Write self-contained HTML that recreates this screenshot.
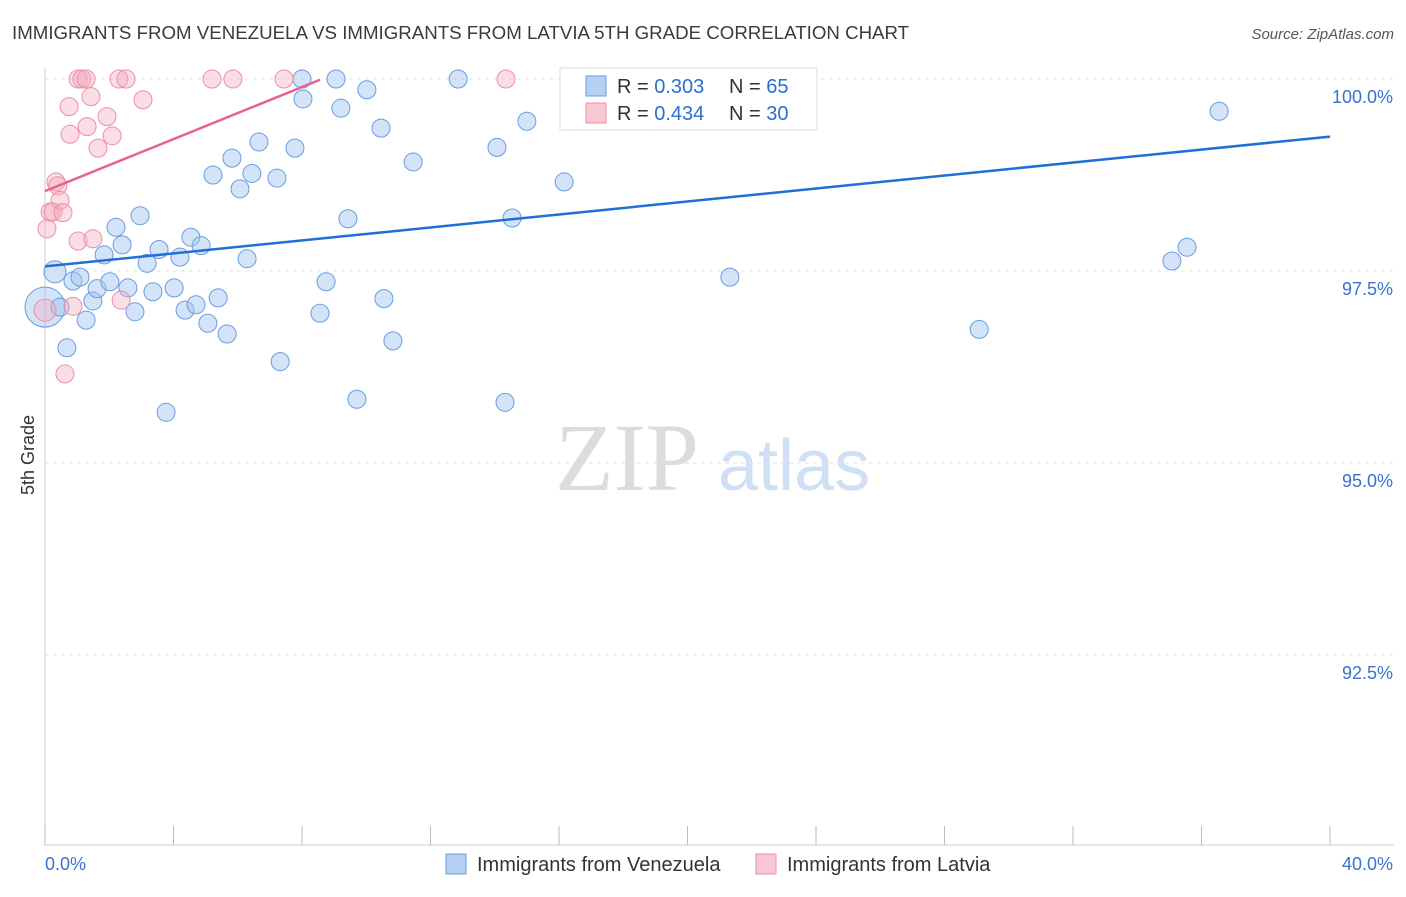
<!DOCTYPE html>
<html><head><meta charset="utf-8"><style>
body{margin:0;background:#fff;font-family:"Liberation Sans",sans-serif}
svg text{font-family:"Liberation Sans",sans-serif}
</style></head><body>
<svg id="c" width="1406" height="892">
<text x="12" y="39" font-size="18.7" fill="#3a3a3a">IMMIGRANTS FROM VENEZUELA VS IMMIGRANTS FROM LATVIA 5TH GRADE CORRELATION CHART</text>
<text x="1394" y="39" font-size="15" fill="#555" text-anchor="end" font-style="italic">Source: ZipAtlas.com</text>
<text x="34" y="455" font-size="18" fill="#333" transform="rotate(-90 34 455)" text-anchor="middle">5th Grade</text>
<text x="555" y="490" font-size="96" fill="#dcdcdc" style="font-family:'Liberation Serif',serif">ZIP</text>
<text x="718" y="490" font-size="72" fill="#cfe0f5">atlas</text>
<g id="grid"></g><g id="pts"></g><g id="lines"></g>
<g>
<rect x="560" y="68" width="257" height="62" fill="#fff" stroke="#ddd"/>
<rect x="586" y="76" width="20" height="20" fill="#b5d0f3" stroke="#6a9ce0"/>
<text x="617" y="93" font-size="20" fill="#333">R = <tspan fill="#2a6fd0">0.303</tspan></text>
<text x="729" y="93" font-size="20" fill="#333">N = <tspan fill="#2a6fd0">65</tspan></text>
<rect x="586" y="103" width="20" height="20" fill="#f8c7d4" stroke="#eb8fa9"/>
<text x="617" y="120" font-size="20" fill="#333">R = <tspan fill="#2a6fd0">0.434</tspan></text>
<text x="729" y="120" font-size="20" fill="#333">N = <tspan fill="#2a6fd0">30</tspan></text>
</g>
<g>
<rect x="446" y="854" width="20" height="20" fill="#b5d0f3" stroke="#6a9ce0"/>
<text x="477" y="871" font-size="20" fill="#333">Immigrants from Venezuela</text>
<rect x="756" y="854" width="20" height="20" fill="#f8c7d4" stroke="#eb8fa9"/>
<text x="787" y="871" font-size="20" fill="#333">Immigrants from Latvia</text>
</g>
</svg>
<script>
const yTicks=[100,97.5,95,92.5];
const yTickLabels=["100.0%","97.5%","95.0%","92.5%"];
const xTickLabels=["0.0%","40.0%"];
const blueX=[0.31,0,0.47,0.68,0.87,1.09,1.28,1.49,1.62,1.84,2.02,2.21,2.40,2.58,2.80,2.96,3.18,3.36,3.55,3.77,4.02,4.20,4.36,4.54,4.70,4.86,5.07,5.23,5.39,5.67,5.82,6.07,6.29,6.44,6.66,7.22,7.32,7.78,8.00,8.03,8.56,8.75,9.06,9.21,9.43,9.71,10.02,10.46,10.55,10.83,11.46,12.86,14.07,14.32,14.54,15.00,16.16,17.28,21.32,21.95,29.08,35.08,35.55,36.55];
const blueY=[97.49,97.03,97.03,96.50,97.37,97.42,96.86,97.11,97.27,97.71,97.36,98.07,97.84,97.28,96.97,98.22,97.60,97.23,97.78,95.66,97.28,97.68,96.99,97.94,97.06,97.83,96.82,98.75,97.15,96.68,98.97,98.57,97.66,98.77,99.18,98.71,96.32,99.10,100,99.74,96.95,97.36,100,99.62,98.18,95.83,99.86,99.36,97.14,96.59,98.92,100,99.11,95.79,98.19,99.45,98.66,100,97.42,100,96.74,97.63,97.81,99.58];
const pinkX=[0,0.06,0.16,0.25,0.34,0.40,0.47,0.56,0.62,0.75,0.78,0.87,1.03,1.03,1.15,1.28,1.31,1.43,1.49,1.65,1.93,2.09,2.30,2.37,2.52,3.05,5.20,5.85,7.44,14.35];
const pinkY=[96.99,98.05,98.27,98.27,98.66,98.61,98.42,98.26,96.16,99.64,99.28,97.04,97.89,100,100,100,99.38,99.77,97.92,99.10,99.51,99.26,100,97.12,100,99.73,100,100,100,100];
const blueLine=[[0,97.56],[40,99.25]];
const pinkLine=[[0,98.54],[8.56,99.99]];
const X=v=>45+v/40*1285, Y=v=>79+(100-v)/2.5*192;
const NS="http://www.w3.org/2000/svg";
function mk(t,a,p){const e=document.createElementNS(NS,t);for(const k in a)e.setAttribute(k,a[k]);p.appendChild(e);return e;}
const g=document.getElementById('grid');
let ax=mk('line',{x1:45,y1:68,x2:45,y2:845,stroke:'#ccc'},g);


let bx=mk('line',{x1:45,y1:845,x2:1394,y2:845,stroke:'#ccc'},g);


yTicks.forEach((t,i)=>{
 let l=mk('line',{x1:45,y1:Y(t),x2:1394,y2:Y(t),stroke:'#e2e2e2','stroke-dasharray':'4 4'},g);
 
 
 let tx=mk('text',{x:1393,y:Y(t)+24,'font-size':18,fill:'#3a72d0','text-anchor':'end'},g);tx.textContent=yTickLabels[i];
 
 
});
for(let i=0;i<=10;i++){let l=mk('line',{x1:X(i*4),y1:826,x2:X(i*4),y2:845,stroke:'#bbb'},g);
 
 }
[[0,45,'start'],[1,1393,'end']].forEach(([i,x,a])=>{let t=mk('text',{x:x,y:870,'font-size':18,fill:'#3a72d0','text-anchor':a},g);t.textContent=xTickLabels[i];
 
 });
const p=document.getElementById('pts');
blueX.forEach((x,i)=>{const r=(i==0?11:(i==1?20:9));const c=mk('circle',{cx:X(x),cy:Y(blueY[i]),r:r,fill:'rgba(160,196,240,0.45)',stroke:'#6a9ce0','stroke-width':1},p);
 
 });
pinkX.forEach((x,i)=>{const c=mk('circle',{cx:X(x),cy:Y(pinkY[i]),r:(i==0?11:9),fill:'rgba(245,170,190,0.4)',stroke:'#eb8fa9','stroke-width':1},p);
 
 });
const L=document.getElementById('lines');
let bl=mk('line',{x1:X(blueLine[0][0]),y1:Y(blueLine[0][1]),x2:X(blueLine[1][0]),y2:Y(blueLine[1][1]),stroke:'#1f6fd6','stroke-width':2.5},L);


let pl=mk('line',{x1:X(pinkLine[0][0]),y1:Y(pinkLine[0][1]),x2:X(pinkLine[1][0]),y2:Y(pinkLine[1][1]),stroke:'#e8628a','stroke-width':2.5},L);


</script>
</body></html>
